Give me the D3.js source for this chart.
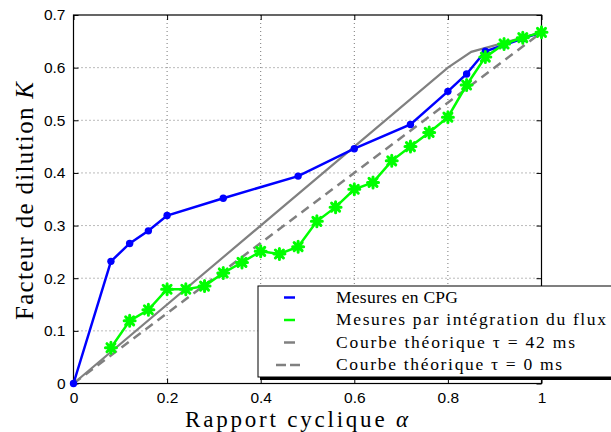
<!DOCTYPE html>
<html><head><meta charset="utf-8">
<script src="https://cdn.jsdelivr.net/npm/d3@7"></script>
<style>body{margin:0;background:#fff}svg{display:block}</style>
</head><body>
<script>
const alphaCPG = [0, 0.08, 0.12, 0.16, 0.20, 0.32, 0.48, 0.60, 0.72, 0.80, 0.84, 0.88, 0.92, 0.96, 1.00];
const kCPG     = [0, 0.232, 0.266, 0.290, 0.319, 0.352, 0.394, 0.446, 0.492, 0.555, 0.588, 0.631, 0.643, 0.655, 0.667];
const alphaFlux = [0.08,0.12,0.16,0.20,0.24,0.28,0.32,0.36,0.40,0.44,0.48,0.52,0.56,0.60,0.64,0.68,0.72,0.76,0.80,0.84,0.88,0.92,0.96,1.00];
const kFlux     = [0.068,0.119,0.140,0.179,0.179,0.185,0.210,0.230,0.251,0.246,0.260,0.308,0.335,0.369,0.382,0.423,0.450,0.477,0.506,0.567,0.620,0.645,0.657,0.667];
const alphaTh42 = [0, 0.80, 0.85, 1.00];
const kTh42     = [0, 0.600, 0.630, 0.667];
const alphaTh0  = [0, 1.00];
const kTh0      = [0, 0.667];
const xTicks = [0, 0.2, 0.4, 0.6, 0.8, 1];
const xTickLabels = ["0", "0.2", "0.4", "0.6", "0.8", "1"];
const yTicks = [0, 0.1, 0.2, 0.3, 0.4, 0.5, 0.6, 0.7];
const yTickLabels = ["0", "0.1", "0.2", "0.3", "0.4", "0.5", "0.6", "0.7"];
const legendLabels = ["Mesures en CPG", "Mesures par intégration du flux", "Courbe théorique τ = 42 ms", "Courbe théorique τ = 0 ms"];

const W = 611, H = 432;
const L = 73.5, R = 541.5, T = 15, B = 383.5;
const svg = d3.select("body").append("svg").attr("width", W).attr("height", H);
const x = d3.scaleLinear().domain([0, 1]).range([L, R]);
const y = d3.scaleLinear().domain([0, 0.7]).range([B, T]);

// grid
const grid = svg.append("g");
grid.selectAll(".gx").data(xTicks.slice(1, -1)).enter().append("line")
  .attr("x1", d => x(d)).attr("x2", d => x(d)).attr("y1", T).attr("y2", B)
  .attr("stroke", "#777").attr("stroke-width", 1).attr("stroke-dasharray", "1,3");
grid.selectAll(".gy").data(yTicks.slice(1, -1)).enter().append("line")
  .attr("y1", d => y(d)).attr("y2", d => y(d)).attr("x1", L).attr("x2", R)
  .attr("stroke", "#777").attr("stroke-width", 1).attr("stroke-dasharray", "1,3");

// axes
const fmtX = (d, i) => xTickLabels[i];
const fmtY = (d, i) => yTickLabels[i];
const ax = svg.append("g").attr("transform", `translate(0,${B})`)
  .call(d3.axisBottom(x).tickValues(xTicks).tickFormat(fmtX).tickSizeInner(-5).tickSizeOuter(0).tickPadding(8));
const ay = svg.append("g").attr("transform", `translate(${L},0)`)
  .call(d3.axisLeft(y).tickValues(yTicks).tickFormat(fmtY).tickSizeInner(-5).tickSizeOuter(0).tickPadding(8));
const axT = svg.append("g").attr("transform", `translate(0,${T})`)
  .call(d3.axisTop(x).tickValues(xTicks).tickFormat("").tickSizeInner(-5).tickSizeOuter(0));
const ayR = svg.append("g").attr("transform", `translate(${R},0)`)
  .call(d3.axisRight(y).tickValues(yTicks).tickFormat("").tickSizeInner(-5).tickSizeOuter(0));
[ax, ay, axT, ayR].forEach(g => {
  g.select(".domain").remove();
  g.selectAll("line").attr("stroke", "#000");
  g.selectAll("text").attr("font-family", "'Liberation Sans', Arial, sans-serif").attr("font-size", 15.5).attr("fill", "#000");
});
svg.append("rect").attr("x", L).attr("y", T).attr("width", R - L).attr("height", B - T)
  .attr("fill", "none").attr("stroke", "#000").attr("stroke-width", 1.2);

const line = d3.line().x(d => x(d[0])).y(d => y(d[1]));
const zip = (a, b) => a.map((v, i) => [v, b[i]]);

svg.append("path").datum(zip(alphaTh0, kTh0)).attr("d", line)
  .attr("fill", "none").attr("stroke", "#808080").attr("stroke-width", 2.5).attr("stroke-dasharray", "9,6");
svg.append("path").datum(zip(alphaTh42, kTh42)).attr("d", line)
  .attr("fill", "none").attr("stroke", "#808080").attr("stroke-width", 2.2);

// CPG
svg.append("path").datum(zip(alphaCPG, kCPG)).attr("d", line)
  .attr("fill", "none").attr("stroke", "#0000ff").attr("stroke-width", 2.5);
svg.selectAll(".cpg").data(zip(alphaCPG, kCPG)).enter().append("circle")
  .attr("cx", d => x(d[0])).attr("cy", d => y(d[1])).attr("r", 3.7).attr("fill", "#0000ff");

// Flux
svg.append("path").datum(zip(alphaFlux, kFlux)).attr("d", line)
  .attr("fill", "none").attr("stroke", "#00ff00").attr("stroke-width", 2.5);
const ast = "M-5.5,0L5.5,0M0,-5.5L0,5.5M-4,-4L4,4M-4,4L4,-4";
svg.selectAll(".flux").data(zip(alphaFlux, kFlux)).enter().append("path")
  .attr("transform", d => `translate(${x(d[0])},${y(d[1])})`)
  .attr("d", ast).attr("stroke", "#00ff00").attr("stroke-width", 3).attr("stroke-linecap", "round");
svg.selectAll(".fluxc").data(zip(alphaFlux, kFlux)).enter().append("circle")
  .attr("cx", d => x(d[0])).attr("cy", d => y(d[1])).attr("r", 3).attr("fill", "#00ff00");

// legend
const lg = svg.append("g");
lg.append("rect").attr("x", 260).attr("y", 289).attr("width", 400).attr("height", 91).attr("fill", "#000");
lg.append("rect").attr("x", 258).attr("y", 286).attr("width", 400).attr("height", 91)
  .attr("fill", "#fff").attr("stroke", "#000").attr("stroke-width", 1);
const rowY = [297.5, 320, 342.5, 365];
const sw = [{c:"#0000ff", d:null, x1:284, x2:295, w:2.5}, {c:"#00ff00", d:null, x1:284, x2:295, w:2.5},
            {c:"#808080", d:null, x1:284, x2:295, w:2.5}, {c:"#808080", d:"10,4", x1:276, x2:301, w:2.5}];
sw.forEach((s, i) => {
  const l = lg.append("line").attr("x1", s.x1).attr("x2", s.x2).attr("y1", rowY[i]).attr("y2", rowY[i])
    .attr("stroke", s.c).attr("stroke-width", s.w);
  if (s.d) l.attr("stroke-dasharray", s.d);
});
const lgW = [122, 270, 239, 226];
legendLabels.forEach((t, i) => {
  lg.append("text").attr("x", 336).attr("y", rowY[i] + 5).text(t)
    .attr("font-family", "'Liberation Serif', 'DejaVu Serif', serif").attr("font-size", 17.5)
    .attr("textLength", lgW[i]).attr("lengthAdjust", "spacing");
});

// axis titles
svg.append("text").attr("x", 185).attr("y", 427).attr("font-family", "'Liberation Serif', serif").attr("font-size", 23)
  .attr("textLength", 223).attr("lengthAdjust", "spacing")
  .html('Rapport cyclique <tspan font-style="italic">α</tspan>');
svg.append("text").attr("transform", "translate(33,320) rotate(-90)").attr("font-family", "'Liberation Serif', serif").attr("font-size", 25)
  .attr("textLength", 238).attr("lengthAdjust", "spacing")
  .html('Facteur de dilution <tspan font-style="italic">K</tspan>');
</script>
</body></html>
